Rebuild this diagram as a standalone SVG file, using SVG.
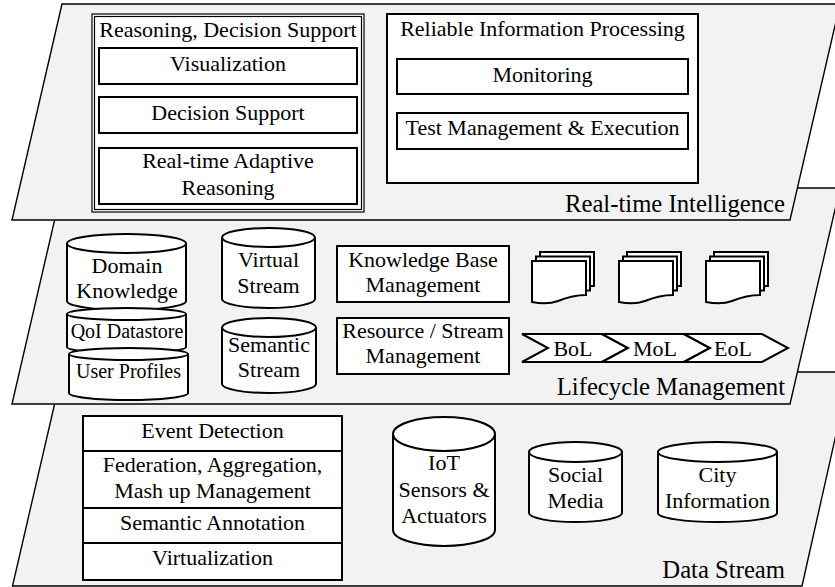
<svg xmlns="http://www.w3.org/2000/svg" width="835" height="587" viewBox="0 0 835 587" font-family="Liberation Serif, Times New Roman, serif">
<style>
text{fill:#000;text-anchor:middle;font-size:22px}
.lbl{font-size:24.7px;text-anchor:end}
.sm{font-size:20px}
.layer{fill:#f2f2f2;stroke:#000;stroke-width:1.4}
.box{fill:#fff;stroke:#000;stroke-width:2}
.thin{fill:#fff;stroke:#000;stroke-width:1.2}
.cyl{fill:#fff;stroke:#000;stroke-width:2}
</style>
<defs>
<g id="doc">
<rect class="box" x="8" y="-9" width="54" height="34"/>
<rect class="box" x="4" y="-4.5" width="54" height="34"/>
<path class="box" d="M0,0 H54 V34 C44,34 36,36 26,40 C18,43 10,43 0,41 Z"/>
</g>
</defs>

<g id="layer-data-stream">
<polygon class="layer" points="62,372 850,372 802,586 12.5,586"/>
<text class="lbl" x="785" y="578">Data Stream</text>
</g>
<g id="layer-lifecycle">
<polygon class="layer" points="62,188 840,188 790,404 12,404"/>
<text class="lbl" x="785" y="395">Lifecycle Management</text>
</g>
<g id="layer-intelligence">
<polygon class="layer" points="62,4 840,4 790,220 12,220"/>
<text class="lbl" x="785" y="212">Real-time Intelligence</text>
</g>

<g id="reasoning-group">
<rect class="thin" x="92" y="14" width="272" height="198"/>
<rect class="thin" x="94.5" y="16.5" width="267" height="193"/>
<text x="228" y="37">Reasoning, Decision Support</text>
</g>
<g id="visualization"><rect class="box" x="99" y="48" width="258" height="36"/><text x="228" y="71">Visualization</text></g>
<g id="decision-support"><rect class="box" x="99" y="97" width="258" height="36"/><text x="228" y="120">Decision Support</text></g>
<g id="adaptive-reasoning"><rect class="box" x="99" y="148" width="258" height="56"/><text x="228" y="168">Real-time Adaptive</text><text x="228" y="195">Reasoning</text></g>

<g id="reliable-group">
<rect class="box" x="387" y="14" width="311" height="169"/>
<text x="542.5" y="36">Reliable Information Processing</text>
</g>
<g id="monitoring"><rect class="box" x="397" y="59" width="291" height="35"/><text x="542.5" y="82">Monitoring</text></g>
<g id="test-management"><rect class="box" x="397" y="113" width="291" height="36"/><text x="542.5" y="135">Test Management &amp; Execution</text></g>

<g id="domain-knowledge">
<path class="cyl" d="M67,243.5 V301 A59.5,9 0 0 0 186,301 V243.5"/>
<ellipse class="cyl" cx="126.5" cy="243.5" rx="59.5" ry="9.5"/>
<text x="127" y="273">Domain</text><text x="127" y="298">Knowledge</text>
</g>
<g id="qoi-datastore">
<path class="cyl" d="M67,314 V347 A59.5,6 0 0 0 186,347 V314"/>
<ellipse class="cyl" cx="126.5" cy="314" rx="59.5" ry="6"/>
<text class="sm" x="127" y="338">QoI Datastore</text>
</g>
<g id="user-profiles">
<path class="cyl" d="M69,354 V393 A59.5,7 0 0 0 188,393 V354"/>
<ellipse class="cyl" cx="128.5" cy="354" rx="59.5" ry="6"/>
<text class="sm" x="128.5" y="378">User Profiles</text>
</g>
<g id="virtual-stream">
<path class="cyl" d="M222,237.5 V299 A46.5,9 0 0 0 315,299 V237.5"/>
<ellipse class="cyl" cx="268.5" cy="237.5" rx="46.5" ry="9.5"/>
<text x="268.5" y="267">Virtual</text><text x="268.5" y="293">Stream</text>
</g>
<g id="semantic-stream">
<path class="cyl" d="M222,327.5 V384 A47,9 0 0 0 316,384 V327.5"/>
<ellipse class="cyl" cx="269" cy="327.5" rx="47" ry="9.5"/>
<text x="269" y="352">Semantic</text><text x="269" y="377">Stream</text>
</g>
<g id="kb-management"><rect class="box" x="337" y="246" width="172" height="56"/><text x="423" y="267">Knowledge Base</text><text x="423" y="292">Management</text></g>
<g id="resource-management"><rect class="box" x="337" y="318" width="172" height="56"/><text x="423" y="338">Resource / Stream</text><text x="423" y="363">Management</text></g>

<g id="doc-1"><use href="#doc" transform="translate(532,261)"/></g>
<g id="doc-2"><use href="#doc" transform="translate(619,261)"/></g>
<g id="doc-3"><use href="#doc" transform="translate(706,261)"/></g>

<g id="bol"><polygon class="box" points="522,334 602,334 628,348 602,362 522,362 548,348"/><text x="573" y="356">BoL</text></g>
<g id="mol"><polygon class="box" points="602,334 684,334 710,348 684,362 602,362 628,348"/><text x="655" y="356">MoL</text></g>
<g id="eol"><polygon class="box" points="684,334 762,334 788,348 762,362 684,362 710,348"/><text x="733" y="356">EoL</text></g>

<g id="data-stack">
<rect class="box" x="83" y="416" width="259" height="164"/>
<line stroke="#000" stroke-width="2" x1="83" y1="451" x2="342" y2="451"/>
<line stroke="#000" stroke-width="2" x1="83" y1="508" x2="342" y2="508"/>
<line stroke="#000" stroke-width="2" x1="83" y1="543" x2="342" y2="543"/>
</g>
<g id="event-detection"><text x="212.5" y="438">Event Detection</text></g>
<g id="federation"><text x="212.5" y="472">Federation, Aggregation,</text><text x="212.5" y="498">Mash up Management</text></g>
<g id="semantic-annotation"><text x="212.5" y="530">Semantic Annotation</text></g>
<g id="virtualization"><text x="212.5" y="565">Virtualization</text></g>

<g id="iot">
<path class="cyl" d="M393,434 V530 A51,16 0 0 0 495,530 V434"/>
<ellipse class="cyl" cx="444" cy="434" rx="51" ry="17"/>
<text x="444" y="470">IoT</text><text x="444" y="497">Sensors &amp;</text><text x="444" y="523">Actuators</text>
</g>
<g id="social-media">
<path class="cyl" d="M529,452 V513 A46.5,9 0 0 0 622,513 V452"/>
<ellipse class="cyl" cx="575.5" cy="452" rx="46.5" ry="10"/>
<text x="575.5" y="482">Social</text><text x="575.5" y="508">Media</text>
</g>
<g id="city-information">
<path class="cyl" d="M658,452 V513 A59.5,9 0 0 0 777,513 V452"/>
<ellipse class="cyl" cx="717.5" cy="452" rx="59.5" ry="10"/>
<text x="717.5" y="482">City</text><text x="717.5" y="508">Information</text>
</g>

<g id="connectors"/>
</svg>
